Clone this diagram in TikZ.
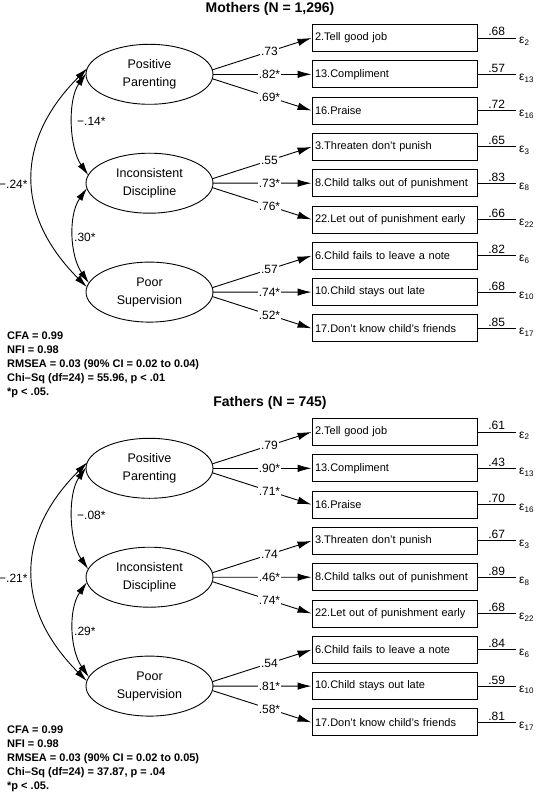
\documentclass[tikz,border=0pt]{standalone}
\usepackage{fontspec}
\setmainfont{Liberation Sans}
\usetikzlibrary{arrows.meta,calc,shapes.geometric}
\tikzset{
  lat/.style={draw, ellipse, line width=0.9pt, minimum width=127pt, minimum height=60pt,
    inner sep=0pt, align=center, font=\fontsize{12.5}{18}\selectfont},
  ind/.style={draw, rectangle, line width=0.9pt, minimum height=27pt, text width=159pt,
    inner xsep=3pt, inner ysep=0pt, align=left, font=\fontsize{11}{13}\selectfont},
  load/.style={line width=0.9pt, -{Latex[length=14pt,width=7.5pt]}},
  corr/.style={line width=0.9pt, {Latex[length=13pt,width=7pt]}-{Latex[length=13pt,width=7pt]}},
  res/.style={line width=0.9pt},
  lab/.style={fill=white, inner sep=1pt, font=\fontsize{12}{14}\selectfont},
  rlab/.style={inner sep=1.5pt, font=\fontsize{12}{14}\selectfont},
  clab/.style={inner sep=0pt, anchor=west, font=\fontsize{12}{14}\selectfont},
  epsl/.style={inner sep=0pt, anchor=base west, font=\fontsize{12}{14}\selectfont},
  ttl/.style={font=\bfseries\fontsize{14}{16}\selectfont, inner sep=0pt},
  stats/.style={font=\bfseries\fontsize{11}{14}\selectfont, align=left, inner sep=0pt, anchor=north west},
}
\newcommand\semPanel[9]{%
\begin{scope}[yshift=#2]
  \node[ttl] (#1-title) at (270,-9) {#3};
  \node[lat] (#1-L0) at (149.5,-74.3) {Positive\\Parenting};
  \node[lat] (#1-L1) at (149.5,-183.2) {Inconsistent\\Discipline};
  \node[lat] (#1-L2) at (149.5,-292.1) {Poor\\Supervision};
  \foreach \i/\txt/\ld/\rs/\ep in {#4} {
    \pgfmathsetmacro\yy{-38-36.3*(\i-1)}
    \pgfmathtruncatemacro\g{div(\i-1,3)}
    \pgfmathsetmacro\dy{4.5-4.5*mod(\i-1,3)}
    \node[ind] (#1-b\i) at (394.5,\yy) {\txt};
    \coordinate (#1-s\i) at ($(#1-L\g.center)+(63,\dy)$);
    \draw[load] (#1-s\i) -- node[lab,pos=0.575] (#1-ld\i) {\ld} (#1-b\i.west);
    \coordinate (#1-e\i) at (516,\yy);
    \draw[res] (#1-b\i.east) -- node[rlab,above] (#1-rs\i) {\rs} (#1-e\i);
    \node[epsl] (#1-eps\i) at ($(#1-e\i)+(3,-6)$) {ε\textsubscript{\ep}};
  }
  \coordinate (#1-o1) at ($(#1-L0.center)+(-62.2,6)$);
  \coordinate (#1-o2) at ($(#1-L2.center)+(-62.6,5)$);
  \coordinate (#1-a1) at ($(#1-L0.center)+(-63.4,1)$);
  \coordinate (#1-a2) at ($(#1-L1.center)+(-61.2,8)$);
  \coordinate (#1-c1) at ($(#1-L1.center)+(-62.6,-5)$);
  \coordinate (#1-c2) at ($(#1-L2.center)+(-60.6,9)$);
  \draw[corr] (#1-o1) .. controls +(225:102) and +(135:102) .. (#1-o2);
  \draw[corr] (#1-a1) .. controls +(235:33) and +(125:33) .. (#1-a2);
  \draw[corr] (#1-c1) .. controls +(235:33) and +(125:33) .. (#1-c2);
  \node[clab] (#1-r12) at (77,-121) {#5};
  \node[clab] (#1-r23) at (74,-237) {#6};
  \node[clab] (#1-r13) at (-1,-184) {#7};
  \node[stats] (#1-fit) at (7,-332) {CFA = 0.99\\NFI = 0.98\\#8\\#9\\*p < .05.};
\end{scope}}
\begin{document}
\begin{tikzpicture}[x=1pt,y=1pt]
\useasboundingbox (0,0) rectangle (536,-794);
\fill[white] (0,0) rectangle (536,-794);
\semPanel{m}{0pt}{Mothers (N = 1,296)}{1/2.Tell good job/.73/.68/2, 2/13.Compliment/.82*/.57/13, 3/16.Praise/.69*/.72/16, 4/3.Threaten don’t punish/.55/.65/3, 5/8.Child talks out of punishment/.73*/.83/8, 6/22.Let out of punishment early/.76*/.66/22, 7/6.Child fails to leave a note/.57/.82/6, 8/10.Child stays out late/.74*/.68/10, 9/17.Don’t know child’s friends/.52*/.85/17}{−.14*}{.30*}{−.24*}{RMSEA = 0.03 (90\% CI = 0.02 to 0.04)}{Chi–Sq (df=24) = 55.96, p < .01}
\semPanel{f}{-394pt}{Fathers (N = 745)}{1/2.Tell good job/.79/.61/2, 2/13.Compliment/.90*/.43/13, 3/16.Praise/.71*/.70/16, 4/3.Threaten don’t punish/.74/.67/3, 5/8.Child talks out of punishment/.46*/.89/8, 6/22.Let out of punishment early/.74*/.68/22, 7/6.Child fails to leave a note/.54/.84/6, 8/10.Child stays out late/.81*/.59/10, 9/17.Don’t know child’s friends/.58*/.81/17}{−.08*}{.29*}{−.21*}{RMSEA = 0.03 (90\% CI = 0.02 to 0.05)}{Chi–Sq (df=24) = 37.87, p = .04}
\end{tikzpicture}
\end{document}
